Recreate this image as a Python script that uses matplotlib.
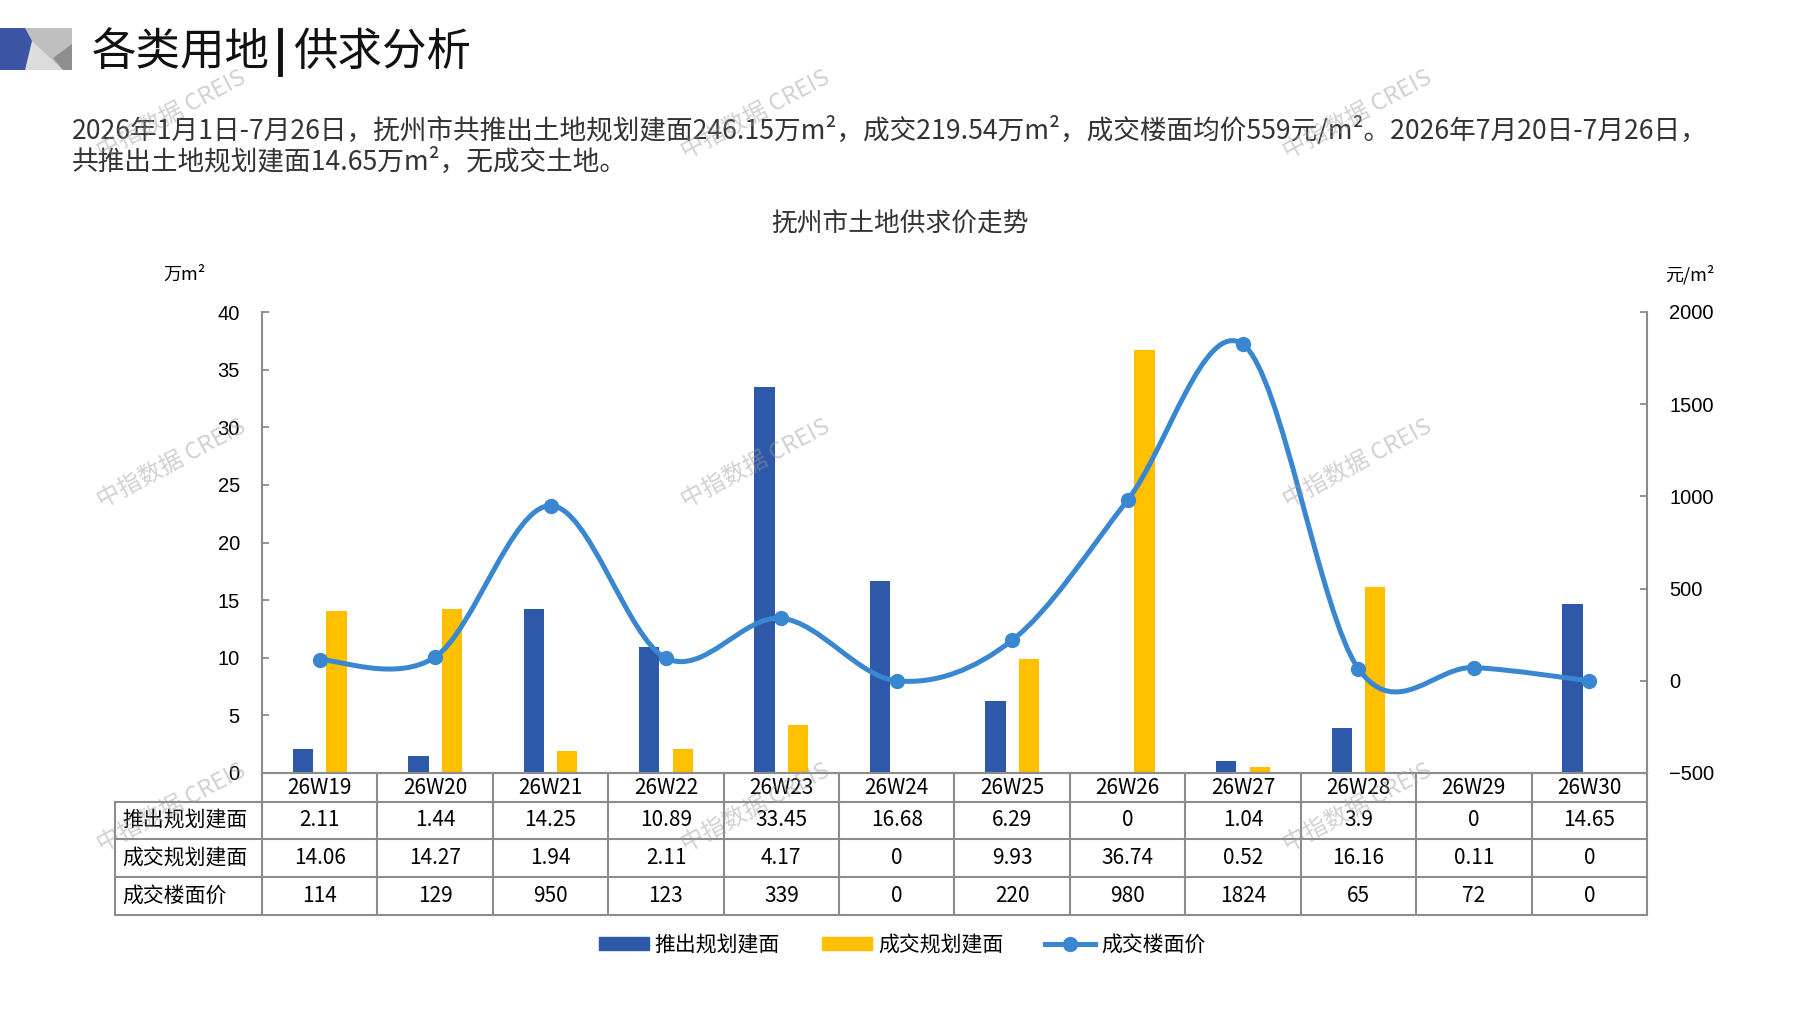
import matplotlib
matplotlib.use('Agg')
import numpy as np
import matplotlib.pyplot as plt
from matplotlib.path import Path
from matplotlib.patches import PathPatch, Polygon, Patch
from matplotlib.lines import Line2D
from matplotlib.transforms import blended_transform_factory

plt.rcParams['font.family'] = ['Noto Sans CJK SC', 'DejaVu Sans']

weeks = ['26W19', '26W20', '26W21', '26W22', '26W23', '26W24',
         '26W25', '26W26', '26W27', '26W28', '26W29', '26W30']
supply = [2.11, 1.44, 14.25, 10.89, 33.45, 16.68, 6.29, 0, 1.04, 3.9, 0, 14.65]
deal = [14.06, 14.27, 1.94, 2.11, 4.17, 0, 9.93, 36.74, 0.52, 16.16, 0.11, 0]
price = [114, 129, 950, 123, 339, 0, 220, 980, 1824, 65, 72, 0]

supply_txt = ['2.11', '1.44', '14.25', '10.89', '33.45', '16.68', '6.29', '0', '1.04', '3.9', '0', '14.65']
deal_txt = ['14.06', '14.27', '1.94', '2.11', '4.17', '0', '9.93', '36.74', '0.52', '16.16', '0.11', '0']
price_txt = ['114', '129', '950', '123', '339', '0', '220', '980', '1824', '65', '72', '0']
row_names = ['推出规划建面', '成交规划建面', '成交楼面价']

title_a = '各类用地'
title_b = '供求分析'
para1 = '2026年1月1日-7月26日，抚州市共推出土地规划建面246.15万m²，成交219.54万m²，成交楼面均价559元/m²。2026年7月20日-7月26日，'
para2 = '共推出土地规划建面14.65万m²，无成交土地。'
chart_title = '抚州市土地供求价走势'

BLUE = '#2E59A8'
YELLOW = '#FFC000'
LINE = '#3A87D1'
GRID = '#8C8C8C'

W, H = 1797, 1010
fig = plt.figure(figsize=(W / 100, H / 100), dpi=100)

# overlay in pixel coords for decorations / table
over = fig.add_axes([0, 0, 1, 1], zorder=-1)
over.set_xlim(0, W)
over.set_ylim(H, 0)
over.axis('off')

L, R, T, B = 262, 1647, 312, 773
ax = fig.add_axes([L / W, 1 - B / H, (R - L) / W, (B - T) / H])
ax.patch.set_alpha(0)
ax2 = ax.twinx()

x = np.arange(len(weeks))
bw = 0.176
ax.bar(x - 0.145, supply, bw, color=BLUE, zorder=2)
ax.bar(x + 0.145, deal, bw, color=YELLOW, zorder=2)
ax.set_xlim(-0.5, len(weeks) - 0.5)
ax.set_ylim(0, 40)
ax.set_yticks(range(0, 41, 5))
ax2.set_ylim(-500, 2000)
ax2.set_yticks(range(-500, 2001, 500))

# smoothed line (Catmull-Rom as cubic bezier)
px = list(x.astype(float))
py = list(price)
verts = [(px[0], py[0])]
codes = [Path.MOVETO]
n = len(px)
for i in range(n - 1):
    p0 = (px[max(i - 1, 0)], py[max(i - 1, 0)])
    p1 = (px[i], py[i])
    p2 = (px[i + 1], py[i + 1])
    p3 = (px[min(i + 2, n - 1)], py[min(i + 2, n - 1)])
    c1 = (p1[0] + (p2[0] - p0[0]) / 6, p1[1] + (p2[1] - p0[1]) / 6)
    c2 = (p2[0] - (p3[0] - p1[0]) / 6, p2[1] - (p3[1] - p1[1]) / 6)
    verts += [c1, c2, p2]
    codes += [Path.CURVE4] * 3
ax2.add_patch(PathPatch(Path(verts, codes), fill=False, edgecolor=LINE, lw=3.6,
                        capstyle='round', zorder=3))
ax2.plot(x, price, 'o', color=LINE, ms=10, zorder=4)

for a in (ax, ax2):
    a.spines['top'].set_visible(False)
    for s in ('left', 'right', 'bottom'):
        a.spines[s].set_color(GRID)
        a.spines[s].set_linewidth(1.5)
    a.tick_params(axis='y', direction='in', length=5, width=1.3, color=GRID,
                  labelsize=14.5, pad=16)
    for lab in a.get_yticklabels():
        lab.set_family(['Liberation Sans', 'DejaVu Sans'])
ax.spines['right'].set_visible(False)
ax2.spines['left'].set_visible(False)
ax.set_xticks([])
ax2.set_xticks([])

# data table below the plot
tr = blended_transform_factory(ax.transData, over.transData)
rows_y = [B, 802, 839, 877, 915]
edges = np.arange(len(weeks) + 1) - 0.5
for yy in rows_y[1:]:
    over.plot([115, R], [yy, yy], color=GRID, lw=1.5)
over.plot([115, 115], [rows_y[1], rows_y[-1]], color=GRID, lw=1.5)
for e in edges:
    ax.plot([e, e], [rows_y[0], rows_y[-1]], color=GRID, lw=1.5, transform=tr,
            clip_on=False)
cell_fs = 15
for i, wk in enumerate(weeks):
    ax.text(i, (rows_y[0] + rows_y[1]) / 2, wk, transform=tr, ha='center',
            va='center', fontsize=cell_fs)
    for r, vals in enumerate([supply_txt, deal_txt, price_txt]):
        ax.text(i, (rows_y[r + 1] + rows_y[r + 2]) / 2, vals[i], transform=tr,
                ha='center', va='center', fontsize=cell_fs)
for r, name in enumerate(row_names):
    over.text(122, (rows_y[r + 1] + rows_y[r + 2]) / 2, name, ha='left',
              va='center', fontsize=cell_fs)

# header decoration
over.add_patch(Polygon([(25, 28), (72, 28), (72, 70), (25, 70)], color='#BFBFBF', lw=0))
over.add_patch(Polygon([(31, 40), (25, 70), (63, 70)], color='#DCDCDC', lw=0))
over.add_patch(Polygon([(53, 58), (72, 44), (72, 70), (63, 70)], color='#8F8F8F', lw=0))
over.add_patch(Polygon([(0, 28), (25, 28), (32, 41), (25, 70), (0, 70)], color='#3B55A4', lw=0))

over.text(92, 52, title_a, ha='left', va='center', fontsize=32, color='#111111')
over.plot([280, 280], [30, 74], color='#111111', lw=3.5)
over.text(293, 52, title_b, ha='left', va='center', fontsize=32, color='#111111')
over.text(72, 130, para1, ha='left', va='center', fontsize=19.2, color='#333333')
over.text(72, 162, para2, ha='left', va='center', fontsize=19.2, color='#333333')
over.text(900, 225, chart_title, ha='center', va='center', fontsize=18.5, color='#333333')
over.text(185, 275, '万m²', ha='center', va='center', fontsize=13)
over.text(1690, 275, '元/m²', ha='center', va='center', fontsize=13)

handles = [Patch(color=BLUE), Patch(color=YELLOW),
           Line2D([], [], color=LINE, lw=3.6, marker='o', ms=10)]
fig.legend(handles, row_names, loc='center', bbox_to_anchor=(902 / W, 1 - 945 / H),
           ncol=3, frameon=False, fontsize=15, handlelength=2.4, handleheight=0.6,
           columnspacing=2.0, handletextpad=0.3)

# watermarks
for wx in (172, 756, 1358):
    for wy in (115, 464, 808):
        fig.text(wx / W, 1 - wy / H, '中指数据 CREIS', rotation=28, ha='center',
                 va='center', fontsize=17, color='#9A9A9A', alpha=0.45, zorder=10)

fig.savefig('out.png', dpi=100)
